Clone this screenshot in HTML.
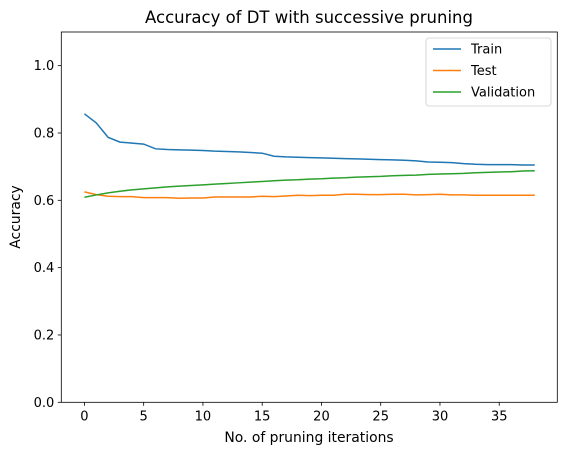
<!DOCTYPE html>
<html><head><meta charset="utf-8"><style>
body{margin:0;background:#fff;}
svg text{font-family:"DejaVu Sans","Liberation Sans",sans-serif;fill:#000;}
</style></head><body>
<svg id="chart" width="567" height="455" xmlns="http://www.w3.org/2000/svg">
<rect width="567" height="455" fill="#fff"/>
<g id="plot"></g>
<text x="309" y="23" font-size="16.5" text-anchor="middle">Accuracy of DT with successive pruning</text>
<text x="309" y="442" font-size="13.9" text-anchor="middle">No. of pruning iterations</text>
<text transform="translate(20,217) rotate(-90)" font-size="13.9" text-anchor="middle">Accuracy</text>
</svg>
<script>
const train=[0.857,0.830,0.787,0.773,0.770,0.767,0.753,0.751,0.750,0.749,0.748,0.746,0.745,0.744,0.742,0.740,0.731,0.729,0.728,0.727,0.726,0.725,0.724,0.723,0.722,0.721,0.720,0.719,0.717,0.714,0.713,0.712,0.709,0.707,0.706,0.706,0.706,0.705,0.705];
const test=[0.625,0.617,0.612,0.611,0.611,0.608,0.608,0.608,0.606,0.607,0.607,0.610,0.610,0.610,0.610,0.612,0.611,0.613,0.615,0.614,0.615,0.615,0.618,0.618,0.617,0.617,0.618,0.618,0.616,0.617,0.618,0.616,0.616,0.615,0.615,0.615,0.615,0.615,0.615];
const valid=[0.609,0.616,0.622,0.627,0.631,0.634,0.637,0.640,0.642,0.644,0.646,0.648,0.650,0.652,0.654,0.656,0.658,0.660,0.661,0.663,0.664,0.666,0.667,0.669,0.670,0.671,0.673,0.674,0.675,0.677,0.678,0.679,0.680,0.682,0.683,0.684,0.685,0.687,0.688];
const xTicks=[0,5,10,15,20,25,30,35];
const yTicks=[0,0.2,0.4,0.6,0.8,1.0];
const L=61.3,R=557.3,T=32,B=402.3,xmin=-1.95,xmax=39.9,ymax=1.1;
const X=v=>L+(v-xmin)/(xmax-xmin)*(R-L);
const Y=v=>B-v/ymax*(B-T);
const NS="http://www.w3.org/2000/svg";
const g=document.getElementById('plot');
function mk(t,a){const e=document.createElementNS(NS,t);for(const k in a)e.setAttribute(k,a[k]);g.appendChild(e);return e;}
const series=[[train,'#1f77b4','train-line'],[test,'#ff7f0e','test-line'],[valid,'#2ca02c','validation-line']];
series.forEach(s=>{
 const p=mk('polyline',{points:s[0].map((v,i)=>X(i)+','+Y(v)).join(' '),fill:'none',stroke:s[1],'stroke-width':1.5});
 
 
});
const frame=mk('rect',{x:L,y:T,width:R-L,height:B-T,fill:'none',stroke:'#000','stroke-width':0.8});


xTicks.forEach(v=>{
 mk('line',{x1:X(v),x2:X(v),y1:B,y2:B+3.5,stroke:'#000','stroke-width':0.8});
 const t=mk('text',{x:X(v),y:B+18,'font-size':13,'text-anchor':'middle'});t.textContent=v;
 
 
});
yTicks.forEach(v=>{
 mk('line',{x1:L-3.5,x2:L,y1:Y(v),y2:Y(v),stroke:'#000','stroke-width':0.8});
 const t=mk('text',{x:L-7,y:Y(v)+4.5,'font-size':13,'text-anchor':'end'});t.textContent=v.toFixed(1);
 
 
});
const lg=mk('rect',{x:426,y:38,width:125,height:68,rx:3,fill:'#fff',stroke:'#ccc','stroke-width':0.8});


series.forEach((s,i)=>{
 const y=49+i*21.5;
 mk('line',{x1:433,x2:461,y1:y,y2:y,stroke:s[1],'stroke-width':1.5});
 const t=mk('text',{x:471,y:y+4.5,'font-size':13});t.textContent=['Train','Test','Validation'][i];
 
 
});
</script>
</body></html>
